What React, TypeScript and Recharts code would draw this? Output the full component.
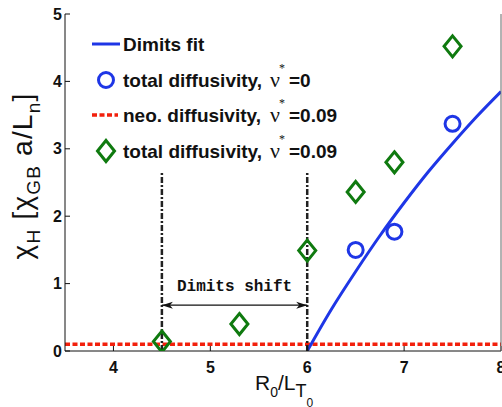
import React from 'react';
import { ComposedChart, Line, Scatter, XAxis, YAxis, ReferenceLine } from 'recharts';

// ---- data ----
const xTicks = [4, 5, 6, 7, 8];
const yTicks = [0, 1, 2, 3, 4, 5];
const dimitsFitX = [6.0, 6.25, 6.5, 6.75, 7.0, 7.25, 7.5, 7.75, 8.0];
const dimitsFitY = [0, 0.62, 1.18, 1.71, 2.2, 2.66, 3.08, 3.48, 3.85];
const totalNu0X = [6.5, 6.9, 7.5];
const totalNu0Y = [1.5, 1.77, 3.37];
const totalNu009X = [4.5, 5.3, 6.0, 6.5, 6.9, 7.5];
const totalNu009Y = [0.14, 0.4, 1.49, 2.36, 2.8, 4.52];
const neoValue = 0.1;
const shiftStart = 4.5;
const shiftEnd = 6.0;
const shiftTop = 2.65;
const arrowLevel = 0.68;
const legendLabels = ['Dimits fit', 'total diffusivity,', 'neo. diffusivity,', 'total diffusivity,'];
const legendNu = ['', '=0', '=0.09', '=0.09'];

const fitData = dimitsFitX.map((x, i) => ({ x, y: dimitsFitY[i] }));
const nu0Data = totalNu0X.map((x, i) => ({ x, y: totalNu0Y[i] }));
const nu009Data = totalNu009X.map((x, i) => ({ x, y: totalNu009Y[i] }));

const BLUE = '#1e36e6';
const GREEN = '#0f7a0f';
const RED = '#f2200c';
const SANS = '"Liberation Sans", Arial, sans-serif';
const SERIF = '"Liberation Serif", "Times New Roman", serif';
const MONO = '"Liberation Mono", "Courier New", monospace';

const CircleShape = (p: any) => (
  <circle cx={p.cx} cy={p.cy} r={7.5} fill="none" stroke={BLUE} strokeWidth={3} />
);
const DiamondShape = (p: any) => {
  const { cx, cy } = p;
  const w = 8.5, h = 10.5;
  return (
    <polygon
      points={`${cx},${cy - h} ${cx + w},${cy} ${cx},${cy + h} ${cx - w},${cy}`}
      fill="none"
      stroke={GREEN}
      strokeWidth={3}
      strokeLinejoin="miter"
    />
  );
};

const ArrowShape = (p: any) => {
  const { x1, y1, x2, y2 } = p;
  const L = 11, H = 3.5;
  const mid = (x1 + x2) / 2;
  return (
    <g>
      <line x1={x1} y1={y1} x2={x2} y2={y2} stroke="#111" strokeWidth={1.3} />
      <polygon points={`${x1},${y1} ${x1 + L},${y1 - H} ${x1 + L - 3},${y1} ${x1 + L},${y1 + H}`} fill="#111" />
      <polygon points={`${x2},${y2} ${x2 - L},${y2 - H} ${x2 - L + 3},${y2} ${x2 - L},${y2 + H}`} fill="#111" />
      <text x={mid} y={y1 - 14} textAnchor="middle" fontFamily={MONO} fontSize={16} fill="#111" fontWeight="bold">
        Dimits shift
      </text>
    </g>
  );
};

const Legend = () => {
  const symX = 106;
  const textX = 123;
  const symY = [44, 80, 115, 151];
  const base = [51, 87, 122, 158];
  return (
    <g>
      <line x1={92} x2={120} y1={symY[0]} y2={symY[0]} stroke={BLUE} strokeWidth={3} />
      <circle cx={symX} cy={symY[1]} r={7.5} fill="none" stroke={BLUE} strokeWidth={3} />
      <line x1={92} x2={118} y1={symY[2]} y2={symY[2]} stroke={RED} strokeWidth={3.5} strokeDasharray="5 2.5" />
      <polygon
        points={`${symX},${symY[3] - 10.5} ${symX + 8.5},${symY[3]} ${symX},${symY[3] + 10.5} ${symX - 8.5},${symY[3]}`}
        fill="none"
        stroke={GREEN}
        strokeWidth={3}
      />
      {legendLabels.map((lab, i) => (
        <g key={i}>
          <text x={textX} y={base[i]} fontFamily={SANS} fontWeight="bold" fontSize={19} fill="#111">
            {lab}
          </text>
          {legendNu[i] && (
            <g>
              <text x={270} y={base[i]} fontFamily={SERIF} fontSize={22} fill="#111">ν</text>
              <text x={279} y={base[i] - 15} fontFamily={SERIF} fontSize={12} fill="#111">*</text>
              <text x={289} y={base[i]} fontFamily={SANS} fontWeight="bold" fontSize={19} fill="#111">
                {legendNu[i]}
              </text>
            </g>
          )}
        </g>
      ))}
    </g>
  );
};

const AxisTitles = () => (
  <g fill="#111" fontFamily={SANS}>
    <text transform="translate(32,176) rotate(-90)" fontSize={28} textAnchor="middle" letterSpacing={1.2}>
      <tspan>χ</tspan>
      <tspan fontSize={19} dy={8}>H</tspan>
      <tspan dy={-8}> [χ</tspan>
      <tspan fontSize={19} dy={8}>GB</tspan>
      <tspan dy={-8}> a/L</tspan>
      <tspan fontSize={19} dy={8}>n</tspan>
      <tspan dy={-8}>]</tspan>
    </text>
    <text x={255} y={390} fontSize={21}>
      <tspan>R</tspan>
      <tspan fontSize={14} dy={7}>0</tspan>
      <tspan dy={-7}>/L</tspan>
      <tspan fontSize={18} dy={7}>T</tspan>
      <tspan fontSize={12} dy={10}>0</tspan>
    </text>
  </g>
);

export default function App() {
  return (
    <div style={{ position: 'absolute', left: 0, top: 0 }}>
      <ComposedChart width={502} height={407} margin={{ top: 14, right: 0, bottom: 0, left: 0 }}>
        <XAxis
          dataKey="x"
          type="number"
          domain={[3.5, 8]}
          ticks={xTicks}
          interval={0}
          allowDataOverflow
          height={56}
          tickSize={-5}
          tickMargin={16}
          stroke="#111"
          tick={{ fontSize: 16, fontWeight: 'bold', fill: '#111', fontFamily: SANS }}
        />
        <XAxis
          xAxisId="top"
          orientation="top"
          type="number"
          domain={[3.5, 8]}
          ticks={xTicks}
          allowDataOverflow
          height={0}
          tickSize={-5}
          tick={false}
          stroke="#666"
        />
        <YAxis
          type="number"
          domain={[0, 5]}
          ticks={yTicks}
          interval={0}
          allowDataOverflow
          width={65}
          tickSize={-5}
          tickMargin={8}
          stroke="#111"
          tick={{ fontSize: 16, fontWeight: 'bold', fill: '#111', fontFamily: SANS }}
        />
        <YAxis
          yAxisId="right"
          orientation="right"
          type="number"
          domain={[0, 5]}
          ticks={yTicks}
          allowDataOverflow
          width={1}
          tickSize={-5}
          tick={false}
          stroke="#666"
        />
        <ReferenceLine y={neoValue} stroke={RED} strokeWidth={3.5} strokeDasharray="5 2.5" />
        <Line
          data={fitData}
          dataKey="y"
          type="monotone"
          stroke={BLUE}
          strokeWidth={3}
          dot={false}
          isAnimationActive={false}
        />
        <Scatter data={nu0Data} dataKey="y" shape={CircleShape} isAnimationActive={false} />
        <Scatter data={nu009Data} dataKey="y" shape={DiamondShape} isAnimationActive={false} />
        <ReferenceLine
          segment={[{ x: shiftStart, y: 0 }, { x: shiftStart, y: shiftTop }]}
          stroke="#222"
          strokeWidth={2.5}
          strokeDasharray="6 2 2 2"
        />
        <ReferenceLine
          segment={[{ x: shiftEnd, y: 0 }, { x: shiftEnd, y: shiftTop }]}
          stroke="#222"
          strokeWidth={2.5}
          strokeDasharray="6 2 2 2"
        />
        <ReferenceLine
          segment={[{ x: shiftStart, y: arrowLevel }, { x: shiftEnd, y: arrowLevel }]}
          shape={ArrowShape}
        />
        <Legend />
        <AxisTitles />
      </ComposedChart>
    </div>
  );
}
